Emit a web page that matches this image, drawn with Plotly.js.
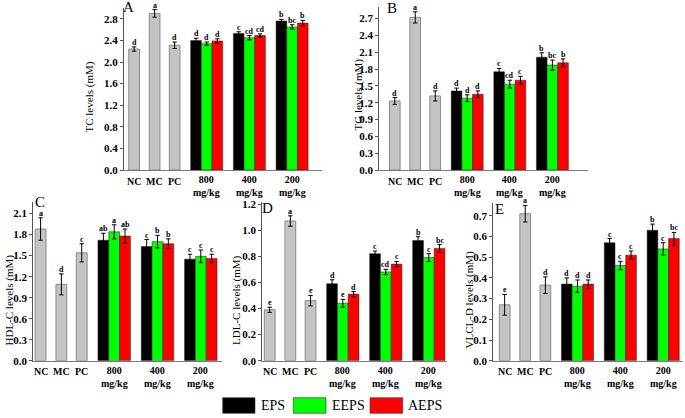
<!DOCTYPE html>
<html>
<head>
<meta charset="utf-8">
<script src="https://cdn.plot.ly/plotly-3.0.1.min.js"></script>
<style>html,body{margin:0;padding:0;background:#fff;}#chart{width:685px;height:418px;}</style>
</head>
<body>
<div id="chart"></div>
<script>
// ---------- DATA ----------
const controlLabels = ['NC', 'MC', 'PC'];
const doseLabels = ['800 mg/kg', '400 mg/kg', '200 mg/kg'];
const seriesNames = ['EPS', 'EEPS', 'AEPS'];

// Panel A: TC
const tcControl = [2.24, 2.90, 2.31];
const tcControlErr = [0.04, 0.07, 0.06];
const tcControlSig = ['d', 'a', 'd'];
const tcEPS = [2.40, 2.53, 2.76];
const tcEPSErr = [0.04, 0.03, 0.03];
const tcEPSSig = ['d', 'c', 'b'];
const tcEEPS = [2.34, 2.45, 2.65];
const tcEEPSErr = [0.03, 0.04, 0.04];
const tcEEPSSig = ['d', 'cd', 'bc'];
const tcAEPS = [2.39, 2.49, 2.72];
const tcAEPSErr = [0.04, 0.03, 0.05];
const tcAEPSSig = ['d', 'cd', 'b'];

// Panel B: TG
const tgControl = [1.23, 2.72, 1.32];
const tgControlErr = [0.06, 0.10, 0.09];
const tgControlSig = ['d', 'a', 'd'];
const tgEPS = [1.41, 1.75, 2.01];
const tgEPSErr = [0.05, 0.06, 0.08];
const tgEPSSig = ['d', 'c', 'b'];
const tgEEPS = [1.28, 1.53, 1.87];
const tgEEPSErr = [0.06, 0.07, 0.09];
const tgEEPSSig = ['d', 'cd', 'bc'];
const tgAEPS = [1.35, 1.60, 1.91];
const tgAEPSErr = [0.06, 0.07, 0.07];
const tgAEPSSig = ['d', 'c', 'b'];

// Panel C: HDL-C
const hdlControl = [1.88, 1.09, 1.54];
const hdlControlErr = [0.16, 0.15, 0.13];
const hdlControlSig = ['a', 'd', 'c'];
const hdlEPS = [1.72, 1.63, 1.45];
const hdlEPSErr = [0.10, 0.10, 0.07];
const hdlEPSSig = ['ab', 'c', 'c'];
const hdlEEPS = [1.84, 1.70, 1.49];
const hdlEEPSErr = [0.10, 0.09, 0.09];
const hdlEEPSSig = ['a', 'b', 'c'];
const hdlAEPS = [1.78, 1.67, 1.46];
const hdlAEPSErr = [0.10, 0.07, 0.06];
const hdlAEPSSig = ['ab', 'b', 'c'];

// Panel D: LDL-C
const ldlControl = [0.39, 1.07, 0.46];
const ldlControlErr = [0.02, 0.04, 0.04];
const ldlControlSig = ['e', 'a', 'e'];
const ldlEPS = [0.59, 0.82, 0.92];
const ldlEPSErr = [0.03, 0.02, 0.03];
const ldlEPSSig = ['d', 'c', 'b'];
const ldlEEPS = [0.44, 0.68, 0.79];
const ldlEEPSErr = [0.03, 0.02, 0.03];
const ldlEEPSSig = ['e', 'cd', 'c'];
const ldlAEPS = [0.51, 0.74, 0.86];
const ldlAEPSErr = [0.02, 0.02, 0.03];
const ldlAEPSSig = ['d', 'c', 'bc'];

// Panel E: VLCL-D
const vlControl = [0.27, 0.71, 0.365];
const vlControlErr = [0.05, 0.04, 0.04];
const vlControlSig = ['e', 'a', 'd'];
const vlEPS = [0.37, 0.57, 0.63];
const vlEPSErr = [0.03, 0.02, 0.03];
const vlEPSSig = ['d', 'c', 'b'];
const vlEEPS = [0.36, 0.46, 0.54];
const vlEEPSErr = [0.03, 0.02, 0.03];
const vlEEPSSig = ['d', 'c', 'c'];
const vlAEPS = [0.37, 0.51, 0.59];
const vlAEPSErr = [0.02, 0.02, 0.03];
const vlAEPSSig = ['d', 'c', 'bc'];

// ---------- LAYOUT / STYLE ----------
const W = 685, H = 418;
const PX = p => p / W;
const PY = p => 1 - p / H;
const FONT = '"Liberation Serif", "Times New Roman", serif';
const controlPos = [0, 0.48, 0.95];
const groupPos = [1.7, 2.7, 3.7];
const barW = 0.25;
const seriesOffset = [-0.25, 0, 0.25];
const seriesColors = ['#000000', '#00ff00', '#ff0000'];
const controlColor = '#c4c4c4';

const panels = [
  {letter: 'A', title: 'TC levels (mM)', xd: [124, 321.7], yd: [8, 170], yr: [0, 3.0], dtick: 0.4, c800: 206.7, s: 42.7,
   titlePos: [89.5, 97], letterPos: [128.5, 7.5],
   ctl: [tcControl, tcControlErr, tcControlSig],
   ser: [[tcEPS, tcEPSErr, tcEPSSig], [tcEEPS, tcEEPSErr, tcEEPSSig], [tcAEPS, tcAEPSErr, tcAEPSSig]]},
  {letter: 'B', title: 'TG levels (mM)', xd: [379.3, 588.3], yd: [7.3, 170], yr: [0, 2.9], dtick: 0.3, c800: 467.2, s: 42.6,
   titlePos: [357.5, 95], letterPos: [391.5, 8],
   ctl: [tgControl, tgControlErr, tgControlSig],
   ser: [[tgEPS, tgEPSErr, tgEPSSig], [tgEEPS, tgEEPSErr, tgEEPSSig], [tgAEPS, tgAEPSErr, tgAEPSSig]]},
  {letter: 'C', title: 'HDL-C levels (mM)', xd: [33.3, 222], yd: [201.7, 360.7], yr: [0, 2.27], dtick: 0.3, c800: 114.2, s: 43.3,
   titlePos: [8.5, 300], letterPos: [40, 201.6],
   ctl: [hdlControl, hdlControlErr, hdlControlSig],
   ser: [[hdlEPS, hdlEPSErr, hdlEPSSig], [hdlEEPS, hdlEEPSErr, hdlEEPSSig], [hdlAEPS, hdlAEPSErr, hdlAEPSSig]]},
  {letter: 'D', title: 'LDL-C levels (mM)', xd: [262.3, 447], yd: [201.7, 360.7], yr: [0, 1.218], dtick: 0.2, c800: 342.8, s: 43,
   titlePos: [236, 300], letterPos: [267.5, 207.5],
   ctl: [ldlControl, ldlControlErr, ldlControlSig],
   ser: [[ldlEPS, ldlEPSErr, ldlEPSSig], [ldlEEPS, ldlEEPSErr, ldlEEPSSig], [ldlAEPS, ldlAEPSErr, ldlAEPSSig]]},
  {letter: 'E', title: 'VLCL-D levels (mM)', xd: [493.3, 683], yd: [203.4, 360.7], yr: [0, 0.76], dtick: 0.1, c800: 577.5, s: 42.85,
   titlePos: [468.5, 300], letterPos: [499.5, 208.5],
   ctl: [vlControl, vlControlErr, vlControlSig],
   ser: [[vlEPS, vlEPSErr, vlEPSSig], [vlEEPS, vlEEPSErr, vlEEPSSig], [vlAEPS, vlAEPSErr, vlAEPSSig]]}
];

const traces = [];
const annotations = [];
const shapes = [];
const layout = {
  width: W, height: H,
  margin: {l: 0, r: 0, t: 0, b: 0},
  paper_bgcolor: '#ffffff', plot_bgcolor: 'rgba(0,0,0,0)',
  showlegend: false,
  barmode: 'overlay',
  font: {family: FONT, color: '#000'}
};

const errStyle = {type: 'data', color: '#000', thickness: 1, width: 2.2, visible: true};
const sigFont = {family: FONT, size: 8, weight: 'bold', color: '#000'};

panels.forEach((p, k) => {
  const n = k === 0 ? '' : String(k + 1);
  const xa = 'x' + n, ya = 'y' + n;
  const xr0 = 1.7 + (p.xd[0] - p.c800) / p.s;
  const xr1 = 1.7 + (p.xd[1] - p.c800) / p.s;
  layout['xaxis' + n] = {
    domain: [PX(p.xd[0]), PX(p.xd[1])], range: [xr0, xr1], anchor: ya,
    showline: true, linecolor: '#7a7a7a', linewidth: 1, ticks: '', showticklabels: false,
    showgrid: false, zeroline: false, fixedrange: true
  };
  layout['yaxis' + n] = {
    domain: [PY(p.yd[1]), PY(p.yd[0])], range: p.yr, anchor: xa,
    showline: true, linecolor: '#555', linewidth: 1, ticks: 'outside', ticklen: 3, tickwidth: 1, tickcolor: '#555',
    ticklabelstandoff: 0,
    dtick: p.dtick, tick0: 0, tickformat: '.1f', showgrid: false, zeroline: false, fixedrange: true,
    tickfont: {family: FONT, size: 11, weight: 'bold', color: '#000'}
  };

  // control bars
  traces.push({
    type: 'bar', x: controlPos, y: p.ctl[0], width: barW, xaxis: xa, yaxis: ya,
    marker: {color: controlColor, line: {color: '#8a8a8a', width: 1}},
    error_y: Object.assign({array: p.ctl[1]}, errStyle), hoverinfo: 'skip'
  });
  controlPos.forEach((x, i) => {
    annotations.push({xref: xa, yref: ya, x: x, y: p.ctl[0][i] + p.ctl[1][i], text: p.ctl[2][i],
      showarrow: false, yanchor: 'bottom', yshift: -1, borderpad: 0, font: sigFont});
  });

  // extract series bars
  p.ser.forEach((s, j) => {
    const xs = groupPos.map(g => g + seriesOffset[j]);
    traces.push({
      type: 'bar', name: seriesNames[j], x: xs, y: s[0], width: barW, xaxis: xa, yaxis: ya,
      marker: {color: seriesColors[j], line: {color: '#222', width: 0.5}},
      error_y: Object.assign({array: s[1]}, errStyle), hoverinfo: 'skip'
    });
    xs.forEach((x, i) => {
      annotations.push({xref: xa, yref: ya, x: x, y: s[0][i] + s[1][i], text: s[2][i],
        showarrow: false, yanchor: 'bottom', yshift: -1, borderpad: 0, font: sigFont});
    });
  });

  // x category labels
  const labFont = {family: FONT, size: 10, weight: 'bold', color: '#000'};
  controlLabels.forEach((t, i) => {
    annotations.push({xref: xa, yref: ya + ' domain', x: controlPos[i], y: 0, yshift: -11, yanchor: 'middle',
      text: t, showarrow: false, borderpad: 0, font: labFont});
  });
  doseLabels.forEach((t, i) => {
    annotations.push({xref: xa, yref: ya + ' domain', x: groupPos[i], y: 0, yshift: -3, yanchor: 'top',
      text: t.split(' ').join('<br>'), showarrow: false, borderpad: 0, font: labFont});
  });

  // y title
  annotations.push({xref: 'paper', yref: 'paper', x: PX(p.titlePos[0]), y: PY(p.titlePos[1]),
    xanchor: 'center', yanchor: 'middle', textangle: -90, text: p.title, showarrow: false, borderpad: 0,
    font: {family: FONT, size: 11, color: '#000'}});
  // panel letter
  annotations.push({xref: 'paper', yref: 'paper', x: PX(p.letterPos[0]), y: PY(p.letterPos[1]),
    xanchor: 'center', yanchor: 'middle', text: p.letter, showarrow: false, borderpad: 0,
    font: {family: FONT, size: 15, color: '#000'}});
});

// custom legend
const legendBoxes = [[222.7, 255, 260], [293.3, 326, 330.7], [370, 402.7, 406.7]];
seriesNames.forEach((nm, j) => {
  const b = legendBoxes[j];
  shapes.push({type: 'rect', xref: 'paper', yref: 'paper', x0: PX(b[0]), x1: PX(b[1]), y0: PY(413.3), y1: PY(397.7),
    fillcolor: seriesColors[j], line: {color: '#333', width: 0.6}});
  annotations.push({xref: 'paper', yref: 'paper', x: PX(b[2]), y: PY(405.5), xanchor: 'left', yanchor: 'middle',
    text: nm, showarrow: false, borderpad: 0, font: {family: FONT, size: 14, color: '#000'}});
});

layout.annotations = annotations;
layout.shapes = shapes;

Plotly.newPlot('chart', traces, layout, {staticPlot: true, displayModeBar: false});
</script>
</body>
</html>
